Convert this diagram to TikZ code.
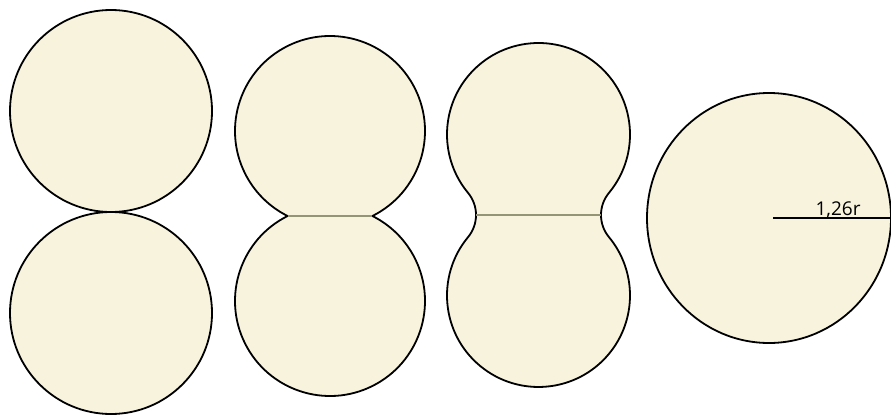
\documentclass[tikz,border=0pt]{standalone}
\usepackage{fontspec}
\setmainfont{Open Sans}
\definecolor{cream}{RGB}{247,243,221}
\definecolor{neck}{RGB}{150,148,118}
\tikzset{
  blob/.style={fill=cream, draw=black, line width=1.8pt, line join=round},
  neckline/.style={draw=neck, line width=1.2pt},
}
\begin{document}
\begin{tikzpicture}[x=1pt,y=1pt]
\useasboundingbox (0,0) rectangle (891,416);
% Figure 1: two touching circles
\draw[blob] (111,305) circle[radius=101];
\draw[blob] (111,103) circle[radius=101];
% Figure 2: two overlapping circles
\draw[blob] (330,285) ++(-63.48:95) arc[start angle=-63.48, end angle=243.48, radius=95]
  arc[start angle=116.52, end angle=423.48, radius=95] -- cycle;
\draw[neckline] (287.6,200) -- (372.4,200);
% Figure 3: merged with concave neck
\draw[blob] (538.5,281.5) ++(-39.63:91.5) arc[start angle=-39.63, end angle=219.63, radius=91.5]
  arc[start angle=39.63, end angle=-39.63, radius=34.7]
  arc[start angle=140.37, end angle=399.63, radius=91.5]
  arc[start angle=219.63, end angle=140.37, radius=34.7] -- cycle;
\draw[neckline] (476.0,201) -- (601.0,201);
% Figure 4: single large circle
\draw[blob] (769,198) ellipse[x radius=122, y radius=125];
\coordinate (c) at (773,198);
\coordinate (e) at (891,198);
\draw[line width=1.4pt] (c) -- (e);
\node[anchor=base, font=\fontsize{19}{22}\selectfont, inner sep=0pt] (lbl) at (838,201) {1,26r};
\end{tikzpicture}
\end{document}
